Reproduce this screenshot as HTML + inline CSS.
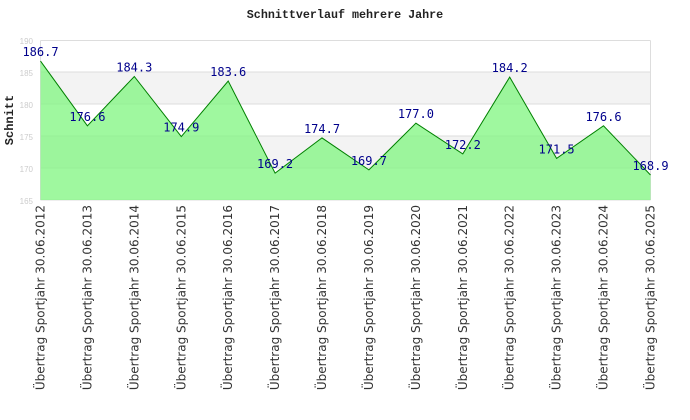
<!DOCTYPE html><html><head><meta charset="utf-8"><style>body{margin:0;background:#fff}svg{display:block}</style></head><body>
<svg width="690" height="420" xmlns="http://www.w3.org/2000/svg">
<rect width="690" height="420" fill="#fff"/>
<text x="345" y="18" text-anchor="middle" font-family="Liberation Mono, monospace" font-weight="bold" font-size="11.7" fill="#222">Schnittverlauf mehrere Jahre</text>
<rect x="40.5" y="72" width="610" height="32" fill="#f3f3f3"/>
<rect x="40.5" y="136" width="610" height="32" fill="#f3f3f3"/>
<g stroke="#ddd" stroke-width="1">
<line x1="40.5" y1="40.5" x2="650.5" y2="40.5"/><line x1="40.5" y1="72" x2="650.5" y2="72"/><line x1="40.5" y1="104" x2="650.5" y2="104"/><line x1="40.5" y1="136" x2="650.5" y2="136"/><line x1="40.5" y1="168" x2="650.5" y2="168"/><line x1="40.5" y1="200" x2="650.5" y2="200"/>
<line x1="40.5" y1="40.5" x2="40.5" y2="200"/><line x1="650.5" y1="40.5" x2="650.5" y2="200"/>
</g>
<g font-family="Liberation Sans, sans-serif" font-size="8" fill="#ccc" text-anchor="end">
<text x="33" y="44">190</text><text x="33" y="76">185</text><text x="33" y="108">180</text><text x="33" y="140">175</text><text x="33" y="172">170</text><text x="33" y="204">165</text>
</g>
<text transform="translate(13,120) rotate(-90)" text-anchor="middle" font-family="Liberation Mono, monospace" font-weight="bold" font-size="12" fill="#222">Schnitt</text>
<polygon points="40.5,200 40.5,61.1 87.4,125.8 134.3,76.5 181.3,136.6 228.2,81.0 275.1,173.1 322.0,137.9 368.9,169.9 415.9,123.2 462.8,153.9 509.7,77.1 556.6,158.4 603.5,125.8 650.5,175.0 650.5,200" fill="#7ff57f" fill-opacity="0.75"/>
<polyline points="40.5,61.1 87.4,125.8 134.3,76.5 181.3,136.6 228.2,81.0 275.1,173.1 322.0,137.9 368.9,169.9 415.9,123.2 462.8,153.9 509.7,77.1 556.6,158.4 603.5,125.8 650.5,175.0" fill="none" stroke="#008000" stroke-width="1"/>
<g font-family="DejaVu Sans Mono, monospace" font-size="12" fill="#00008b" text-anchor="middle">
<text x="40.5" y="56.1">186.7</text><text x="87.4" y="120.8">176.6</text><text x="134.3" y="71.5">184.3</text><text x="181.3" y="131.6">174.9</text><text x="228.2" y="76">183.6</text><text x="275.1" y="168.1">169.2</text><text x="322" y="132.9">174.7</text><text x="368.9" y="164.9">169.7</text><text x="415.9" y="118.2">177.0</text><text x="462.8" y="148.9">172.2</text><text x="509.7" y="72.1">184.2</text><text x="556.6" y="153.4">171.5</text><text x="603.5" y="120.8">176.6</text><text x="650.5" y="170">168.9</text>
</g>
<g font-family="DejaVu Sans, sans-serif" font-size="12" fill="#333" text-anchor="end">
<text transform="translate(44.5,205) rotate(-90)">Übertrag Sportjahr 30.06.2012</text>
<text transform="translate(91.4,205) rotate(-90)">Übertrag Sportjahr 30.06.2013</text>
<text transform="translate(138.3,205) rotate(-90)">Übertrag Sportjahr 30.06.2014</text>
<text transform="translate(185.3,205) rotate(-90)">Übertrag Sportjahr 30.06.2015</text>
<text transform="translate(232.2,205) rotate(-90)">Übertrag Sportjahr 30.06.2016</text>
<text transform="translate(279.1,205) rotate(-90)">Übertrag Sportjahr 30.06.2017</text>
<text transform="translate(326,205) rotate(-90)">Übertrag Sportjahr 30.06.2018</text>
<text transform="translate(372.9,205) rotate(-90)">Übertrag Sportjahr 30.06.2019</text>
<text transform="translate(419.9,205) rotate(-90)">Übertrag Sportjahr 30.06.2020</text>
<text transform="translate(466.8,205) rotate(-90)">Übertrag Sportjahr 30.06.2021</text>
<text transform="translate(513.7,205) rotate(-90)">Übertrag Sportjahr 30.06.2022</text>
<text transform="translate(560.6,205) rotate(-90)">Übertrag Sportjahr 30.06.2023</text>
<text transform="translate(607.5,205) rotate(-90)">Übertrag Sportjahr 30.06.2024</text>
<text transform="translate(654.5,205) rotate(-90)">Übertrag Sportjahr 30.06.2025</text>
</g>
</svg>
</body></html>
